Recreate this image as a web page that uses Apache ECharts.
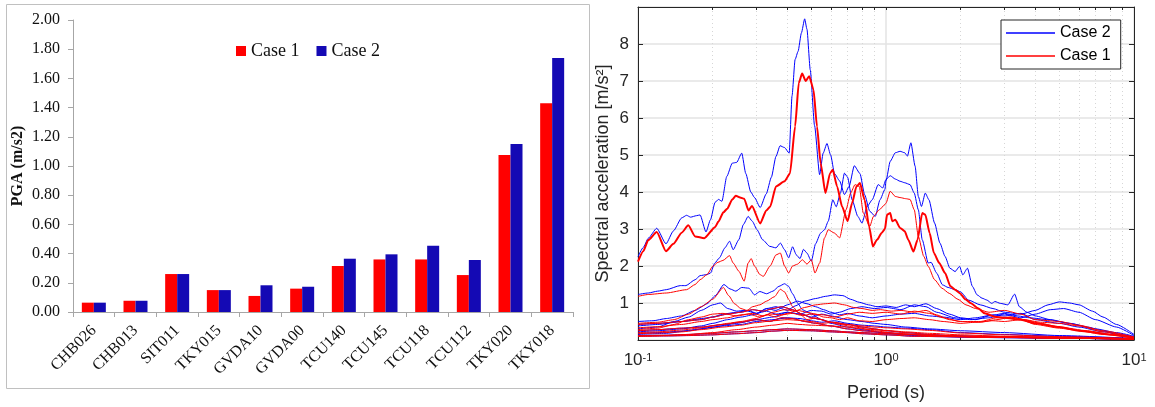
<!DOCTYPE html>
<html>
<head>
<meta charset="utf-8">
<script src="https://cdn.jsdelivr.net/npm/echarts@6/dist/echarts.min.js"></script>
<style>
  html, body { margin: 0; padding: 0; background: #fff; }
  #chart { width: 1155px; height: 407px; }
</style>
</head>
<body>
<div id="chart"></div>
<script>
// left panel: PGA per station
const stations = ['CHB026', 'CHB013', 'SIT011', 'TKY015', 'GVDA10', 'GVDA00', 'TCU140', 'TCU145', 'TCU118', 'TCU112', 'TKY020', 'TKY018']
const pgaCase1 = [0.064, 0.077, 0.26, 0.15, 0.11, 0.16, 0.315, 0.36, 0.36, 0.253, 1.075, 1.43]
const pgaCase2 = [0.064, 0.077, 0.26, 0.15, 0.183, 0.173, 0.365, 0.395, 0.454, 0.356, 1.15, 1.74]

// right panel: response spectra, [period (s), Sa (m/s2)]
const periodTicks = [0.1, 1, 10]
const minorPeriods = [0.2, 0.3, 0.4, 0.5, 0.6, 0.7, 0.8, 0.9, 2, 3, 4, 5, 6, 7, 8, 9]

const tky018Case2 = [[0.1, 2.25], [0.105, 2.5], [0.11, 2.75], [0.119, 3.02], [0.1297, 2.6], [0.139, 2.95], [0.15, 3.3], [0.157, 3.37], [0.163, 3.32], [0.172, 3.36], [0.178, 3.38], [0.188, 2.92], [0.196, 3.25], [0.2045, 3.72], [0.211, 3.8], [0.218, 3.75], [0.228, 4.42], [0.24, 4.78], [0.25, 4.8], [0.262, 5.05], [0.272, 4.5], [0.285, 4.0], [0.295, 3.85], [0.311, 3.58], [0.329, 3.95], [0.345, 4.4], [0.36, 4.96], [0.374, 5.25], [0.39, 5.2], [0.407, 5.05], [0.418, 6.6], [0.43, 7.58], [0.442, 7.8], [0.456, 8.3], [0.47, 8.68], [0.48, 8.4], [0.495, 7.3], [0.515, 5.8], [0.54, 4.47], [0.558, 5.05], [0.578, 5.31], [0.598, 5.0], [0.62, 4.5], [0.65, 4.3], [0.68, 3.93], [0.71, 4.15], [0.745, 4.71], [0.785, 4.5], [0.82, 3.93], [0.86, 3.48], [0.905, 3.34], [0.946, 3.79], [0.99, 4.07], [1.0, 4.3], [1.04, 4.83], [1.09, 5.06], [1.14, 5.1], [1.19, 5.06], [1.22, 4.97], [1.26, 5.33], [1.31, 4.7], [1.35, 3.88], [1.39, 3.61], [1.44, 3.97], [1.49, 3.79], [1.57, 3.16], [1.65, 2.62], [1.73, 2.26], [1.81, 1.94], [1.9, 1.85], [1.98, 1.99], [2.04, 1.76], [2.13, 1.94], [2.23, 1.45], [2.33, 1.22], [2.44, 1.13], [2.55, 1.08], [2.67, 0.99], [2.75, 1.04], [2.89, 0.99], [3.1, 0.95], [3.3, 1.24], [3.45, 0.9], [3.7, 0.75], [4.0, 0.65], [4.6, 0.55], [5.5, 0.45], [6.5, 0.35], [7.5, 0.25], [8.5, 0.15], [10, 0.08]]
const tky018Case1 = [[0.1, 2.12], [0.105, 2.4], [0.11, 2.7], [0.119, 2.92], [0.1297, 2.4], [0.139, 2.6], [0.15, 2.9], [0.1595, 3.1], [0.17, 2.8], [0.185, 2.75], [0.2045, 3.05], [0.211, 3.2], [0.221, 3.45], [0.229, 3.55], [0.24, 3.8], [0.248, 3.9], [0.258, 3.85], [0.268, 3.82], [0.279, 3.5], [0.288, 3.62], [0.311, 3.15], [0.329, 3.5], [0.341, 3.6], [0.36, 4.15], [0.39, 4.29], [0.41, 4.5], [0.43, 5.77], [0.445, 6.95], [0.459, 7.2], [0.475, 7.0], [0.49, 7.13], [0.51, 6.77], [0.527, 5.77], [0.545, 4.78], [0.57, 3.97], [0.595, 4.51], [0.61, 4.6], [0.635, 4.15], [0.665, 3.61], [0.7, 3.21], [0.73, 3.7], [0.76, 4.15], [0.785, 4.24], [0.82, 3.79], [0.855, 3.07], [0.885, 2.53], [0.92, 2.71], [0.96, 2.89], [0.99, 3.0], [1.01, 3.39], [1.04, 3.43], [1.06, 3.21], [1.09, 3.25], [1.14, 3.03], [1.19, 2.94], [1.23, 2.71], [1.29, 2.39], [1.34, 2.71], [1.4, 3.43], [1.44, 3.39], [1.5, 2.89], [1.56, 2.35], [1.64, 2.08], [1.73, 1.81], [1.82, 1.45], [1.9, 1.36], [1.99, 1.26], [2.09, 1.1], [2.2, 0.99], [2.35, 0.86], [2.5, 0.72], [2.75, 0.63], [3.0, 0.6], [3.5, 0.55], [4.0, 0.45], [5, 0.35], [6, 0.25], [8, 0.15], [10, 0.06]]
const tky020Case2 = [[0.1, 1.23], [0.11, 1.27], [0.12, 1.32], [0.13, 1.36], [0.148, 1.47], [0.156, 1.47], [0.17, 1.63], [0.178, 1.74], [0.19, 1.77], [0.196, 1.81], [0.204, 2.08], [0.213, 2.22], [0.224, 2.49], [0.234, 2.67], [0.242, 2.44], [0.255, 2.71], [0.266, 3.12], [0.278, 3.34], [0.289, 3.21], [0.302, 2.98], [0.318, 2.71], [0.34, 2.53], [0.36, 2.49], [0.375, 2.62], [0.39, 2.44], [0.405, 2.22], [0.42, 2.52], [0.435, 2.3], [0.45, 2.2], [0.465, 2.45], [0.48, 2.35], [0.5, 2.13], [0.52, 2.6], [0.545, 2.89], [0.565, 2.98], [0.585, 3.21], [0.61, 3.79], [0.63, 3.6], [0.655, 3.97], [0.68, 4.51], [0.7, 4.4], [0.73, 3.79], [0.77, 3.34], [0.8, 3.16], [0.84, 3.61], [0.88, 3.79], [0.93, 4.2], [0.97, 4.11], [1.0, 4.34], [1.04, 4.44], [1.09, 4.35], [1.14, 4.29], [1.19, 4.25], [1.25, 4.2], [1.3, 3.97], [1.35, 3.52], [1.4, 2.71], [1.48, 2.08], [1.52, 2.1], [1.6, 1.81], [1.69, 1.49], [1.78, 1.42], [1.9, 1.36], [2.0, 1.3], [2.15, 1.08], [2.4, 0.95], [2.7, 0.85], [3.0, 0.75], [3.5, 0.7], [4.0, 0.8], [4.5, 0.95], [5.0, 1.03], [5.5, 1.0], [6.0, 0.95], [6.8, 0.78], [7.5, 0.62], [8.5, 0.42], [10, 0.15]]
const tky020Case1 = [[0.1, 1.18], [0.11, 1.23], [0.13, 1.27], [0.157, 1.36], [0.17, 1.5], [0.178, 1.63], [0.19, 1.77], [0.2, 1.99], [0.21, 2.1], [0.22, 2.15], [0.234, 2.28], [0.242, 2.08], [0.255, 1.86], [0.268, 1.59], [0.278, 2.08], [0.286, 2.2], [0.295, 2.0], [0.31, 1.77], [0.32, 1.72], [0.341, 2.0], [0.36, 2.3], [0.375, 2.35], [0.39, 2.0], [0.405, 1.81], [0.42, 2.0], [0.44, 2.05], [0.46, 2.17], [0.48, 2.05], [0.5, 2.17], [0.517, 1.81], [0.54, 2.08], [0.565, 2.76], [0.585, 2.98], [0.62, 2.89], [0.65, 2.76], [0.69, 3.52], [0.72, 3.97], [0.75, 4.2], [0.78, 4.15], [0.81, 3.43], [0.86, 3.07], [0.89, 3.34], [0.94, 3.52], [0.99, 3.66], [1.0, 3.7], [1.04, 4.02], [1.09, 3.88], [1.14, 3.85], [1.2, 3.82], [1.25, 3.8], [1.3, 3.52], [1.35, 2.8], [1.42, 2.26], [1.48, 1.99], [1.57, 1.63], [1.68, 1.4], [1.8, 1.26], [1.95, 1.1], [2.1, 0.95], [2.3, 0.85], [2.6, 0.75], [3.0, 0.8], [3.5, 0.7], [4.0, 0.55], [5.0, 0.5], [6.0, 0.4], [7.5, 0.25], [10, 0.08]]
const tcu118Case2 = [[0.1, 0.5], [0.115, 0.52], [0.13, 0.58], [0.15, 0.65], [0.17, 0.8], [0.19, 0.98], [0.205, 1.2], [0.222, 1.5], [0.235, 1.38], [0.248, 1.32], [0.262, 1.42], [0.28, 1.4], [0.295, 1.22], [0.31, 1.31], [0.33, 1.25], [0.35, 1.32], [0.37, 1.45], [0.39, 1.52], [0.405, 1.45], [0.42, 1.25], [0.44, 1.0], [0.46, 0.82], [0.5, 0.7], [0.55, 0.55], [0.6, 0.45], [0.7, 0.35], [0.8, 0.28], [1.0, 0.18], [1.3, 0.12], [2, 0.08], [3, 0.06], [5, 0.05], [10, 0.02]]
const tcu118Case1 = [[0.1, 0.45], [0.12, 0.48], [0.14, 0.55], [0.16, 0.7], [0.18, 0.9], [0.2, 1.1], [0.221, 1.42], [0.232, 1.2], [0.245, 0.98], [0.26, 0.85], [0.275, 0.8], [0.29, 0.9], [0.31, 0.95], [0.33, 1.05], [0.355, 1.17], [0.375, 1.37], [0.39, 1.3], [0.405, 1.1], [0.42, 0.9], [0.45, 0.7], [0.48, 0.55], [0.52, 0.6], [0.58, 0.5], [0.65, 0.42], [0.75, 0.35], [0.9, 0.25], [1.1, 0.18], [1.5, 0.12], [2.5, 0.08], [5, 0.05], [10, 0.02]]
const tcu145Case2 = [[0.1, 0.38], [0.12, 0.42], [0.15, 0.5], [0.18, 0.58], [0.2, 0.62], [0.22, 0.7], [0.25, 0.75], [0.28, 0.8], [0.3, 0.72], [0.33, 0.85], [0.36, 0.9], [0.4, 0.8], [0.43, 0.92], [0.47, 1.05], [0.52, 1.12], [0.57, 1.18], [0.62, 1.22], [0.67, 1.2], [0.72, 1.1], [0.78, 1.02], [0.85, 0.95], [0.92, 0.9], [1.0, 0.92], [1.1, 0.88], [1.2, 0.95], [1.3, 0.9], [1.45, 0.98], [1.6, 0.85], [1.8, 0.7], [2.0, 0.6], [2.3, 0.55], [2.6, 0.65], [3.0, 0.72], [3.4, 0.65], [3.8, 0.6], [4.5, 0.55], [5.5, 0.45], [7, 0.3], [8.5, 0.2], [10, 0.1]]
const tcu145Case1 = [[0.1, 0.33], [0.12, 0.36], [0.15, 0.42], [0.18, 0.5], [0.2, 0.55], [0.23, 0.6], [0.26, 0.68], [0.29, 0.72], [0.32, 0.65], [0.35, 0.75], [0.39, 0.82], [0.43, 0.78], [0.47, 0.88], [0.52, 0.95], [0.57, 0.98], [0.62, 1.0], [0.68, 0.95], [0.74, 0.88], [0.8, 0.85], [0.88, 0.8], [0.95, 0.82], [1.05, 0.78], [1.15, 0.8], [1.3, 0.75], [1.45, 0.8], [1.6, 0.68], [1.8, 0.55], [2.0, 0.5], [2.4, 0.5], [2.8, 0.6], [3.2, 0.62], [3.6, 0.55], [4.2, 0.45], [5, 0.35], [6.5, 0.25], [8, 0.15], [10, 0.06]]
const tcu140Case2 = [[0.1, 0.3], [0.12, 0.35], [0.14, 0.5], [0.16, 0.62], [0.18, 0.8], [0.2, 0.95], [0.215, 1.0], [0.23, 0.85], [0.25, 0.78], [0.27, 0.8], [0.3, 0.72], [0.33, 0.78], [0.36, 0.7], [0.4, 0.75], [0.45, 0.7], [0.5, 0.8], [0.55, 0.78], [0.6, 0.7], [0.65, 0.75], [0.72, 0.85], [0.8, 0.9], [0.9, 0.85], [1.0, 0.88], [1.15, 0.82], [1.3, 0.95], [1.45, 0.9], [1.6, 0.75], [1.9, 0.6], [2.2, 0.55], [2.6, 0.6], [3.0, 0.7], [3.5, 0.6], [4.0, 0.7], [4.6, 0.82], [5.2, 0.85], [6, 0.75], [7, 0.55], [8.5, 0.35], [10, 0.12]]
const tcu140Case1 = [[0.1, 0.28], [0.12, 0.32], [0.14, 0.42], [0.16, 0.55], [0.18, 0.62], [0.2, 0.7], [0.22, 0.72], [0.25, 0.65], [0.28, 0.7], [0.31, 0.62], [0.34, 0.7], [0.38, 0.68], [0.42, 0.72], [0.46, 0.66], [0.5, 0.7], [0.56, 0.68], [0.62, 0.62], [0.7, 0.7], [0.78, 0.75], [0.88, 0.72], [1.0, 0.75], [1.15, 0.7], [1.3, 0.78], [1.5, 0.72], [1.7, 0.6], [2.0, 0.5], [2.4, 0.48], [2.8, 0.55], [3.2, 0.62], [3.6, 0.55], [4.2, 0.48], [5, 0.45], [6, 0.38], [7.5, 0.22], [10, 0.06]]
const tcu112Case2 = [[0.1, 0.22], [0.12, 0.25], [0.15, 0.3], [0.18, 0.38], [0.2, 0.45], [0.23, 0.55], [0.26, 0.62], [0.3, 0.7], [0.33, 0.85], [0.36, 0.8], [0.4, 0.95], [0.44, 1.05], [0.48, 0.98], [0.52, 0.9], [0.56, 0.82], [0.6, 0.75], [0.65, 0.68], [0.7, 0.72], [0.78, 0.65], [0.88, 0.6], [1.0, 0.65], [1.15, 0.7], [1.3, 0.72], [1.5, 0.65], [1.7, 0.62], [2.0, 0.55], [2.3, 0.6], [2.7, 0.68], [3.0, 0.65], [3.5, 0.72], [4.0, 0.55], [5, 0.45], [6, 0.35], [7.5, 0.22], [10, 0.08]]
const tcu112Case1 = [[0.1, 0.2], [0.12, 0.22], [0.15, 0.27], [0.18, 0.33], [0.2, 0.38], [0.23, 0.45], [0.26, 0.5], [0.3, 0.58], [0.33, 0.68], [0.36, 0.62], [0.4, 0.72], [0.44, 0.8], [0.48, 0.75], [0.52, 0.7], [0.56, 0.62], [0.6, 0.6], [0.65, 0.55], [0.7, 0.6], [0.78, 0.52], [0.88, 0.5], [1.0, 0.55], [1.15, 0.58], [1.3, 0.6], [1.5, 0.55], [1.7, 0.5], [2.0, 0.45], [2.3, 0.48], [2.7, 0.52], [3.0, 0.5], [3.5, 0.55], [4.0, 0.42], [5, 0.32], [6, 0.25], [7.5, 0.15], [10, 0.05]]
const gvda10Case2 = [[0.1, 0.15], [0.13, 0.18], [0.16, 0.25], [0.2, 0.35], [0.25, 0.45], [0.3, 0.55], [0.35, 0.62], [0.4, 0.75], [0.45, 0.7], [0.5, 0.62], [0.55, 0.7], [0.6, 0.65], [0.7, 0.55], [0.8, 0.5], [0.9, 0.45], [1.0, 0.42], [1.2, 0.35], [1.5, 0.3], [2, 0.25], [3, 0.2], [5, 0.12], [10, 0.04]]
const gvda10Case1 = [[0.1, 0.1], [0.13, 0.12], [0.16, 0.15], [0.2, 0.2], [0.25, 0.28], [0.3, 0.35], [0.35, 0.4], [0.4, 0.45], [0.45, 0.42], [0.5, 0.4], [0.6, 0.38], [0.7, 0.35], [0.8, 0.3], [1.0, 0.26], [1.2, 0.22], [1.5, 0.18], [2, 0.14], [3, 0.1], [5, 0.07], [10, 0.03]]
const gvda00Case2 = [[0.1, 0.18], [0.12, 0.2], [0.15, 0.24], [0.18, 0.3], [0.22, 0.38], [0.26, 0.42], [0.3, 0.5], [0.35, 0.55], [0.4, 0.6], [0.45, 0.58], [0.5, 0.52], [0.55, 0.48], [0.62, 0.52], [0.7, 0.45], [0.8, 0.4], [0.9, 0.38], [1.0, 0.35], [1.2, 0.32], [1.5, 0.28], [2, 0.2], [3, 0.15], [5, 0.1], [10, 0.04]]
const gvda00Case1 = [[0.1, 0.17], [0.12, 0.19], [0.15, 0.22], [0.18, 0.28], [0.22, 0.35], [0.26, 0.4], [0.3, 0.47], [0.35, 0.52], [0.4, 0.55], [0.45, 0.53], [0.5, 0.5], [0.55, 0.45], [0.62, 0.48], [0.7, 0.42], [0.8, 0.38], [0.9, 0.35], [1.0, 0.33], [1.2, 0.3], [1.5, 0.26], [2, 0.19], [3, 0.14], [5, 0.09], [10, 0.04]]
// these four stations give the same spectrum in both cases
const sit011Spec = [[0.1, 0.42], [0.12, 0.45], [0.15, 0.5], [0.18, 0.55], [0.2, 0.62], [0.23, 0.7], [0.26, 0.75], [0.29, 0.82], [0.32, 0.78], [0.35, 0.85], [0.38, 0.9], [0.42, 0.82], [0.46, 0.7], [0.5, 0.6], [0.55, 0.55], [0.6, 0.48], [0.7, 0.42], [0.8, 0.35], [0.9, 0.3], [1.0, 0.25], [1.2, 0.2], [1.5, 0.15], [2, 0.1], [3, 0.08], [5, 0.05], [10, 0.02]]
const tky015Spec = [[0.1, 0.25], [0.12, 0.28], [0.15, 0.32], [0.18, 0.35], [0.22, 0.42], [0.26, 0.48], [0.3, 0.55], [0.34, 0.5], [0.38, 0.6], [0.42, 0.58], [0.47, 0.5], [0.52, 0.45], [0.6, 0.38], [0.7, 0.3], [0.8, 0.25], [1.0, 0.2], [1.2, 0.16], [1.5, 0.12], [2, 0.09], [3, 0.07], [5, 0.05], [10, 0.02]]
const chb013Spec = [[0.1, 0.12], [0.13, 0.13], [0.16, 0.15], [0.2, 0.18], [0.25, 0.22], [0.3, 0.25], [0.35, 0.28], [0.4, 0.3], [0.5, 0.28], [0.6, 0.25], [0.7, 0.22], [0.8, 0.2], [1.0, 0.17], [1.3, 0.14], [1.7, 0.12], [2.5, 0.1], [4, 0.08], [6, 0.06], [10, 0.03]]
const chb026Spec = [[0.1, 0.1], [0.13, 0.11], [0.16, 0.12], [0.2, 0.14], [0.25, 0.17], [0.3, 0.2], [0.35, 0.24], [0.4, 0.26], [0.5, 0.25], [0.6, 0.22], [0.7, 0.2], [0.8, 0.17], [1.0, 0.14], [1.3, 0.1], [1.7, 0.09], [2.5, 0.07], [4, 0.06], [6, 0.05], [10, 0.02]]

const case2Spectra = [tky018Case2, tky020Case2, tcu118Case2, tcu145Case2, tcu140Case2, tcu112Case2, gvda10Case2, gvda00Case2, sit011Spec, tky015Spec, chb013Spec, chb026Spec]
const case1Spectra = [tky020Case1, tcu118Case1, tcu145Case1, tcu140Case1, tcu112Case1, gvda10Case1, gvda00Case1, sit011Spec, tky015Spec, chb013Spec, chb026Spec, tky018Case1]

const RED = '#ff0000'
const BAR_BLUE = '#1409b4'
const LINE_BLUE = '#0000ff'
const SERIF = 'Liberation Serif'
const SANS = 'Liberation Sans'
const INK = '#262626'

const chart = echarts.init(document.getElementById('chart'), null, { renderer: 'canvas' })

function spectrumSeries(data, name, color, width) {
  return {
    type: 'line',
    name,
    xAxisIndex: 1,
    yAxisIndex: 1,
    data,
    symbol: 'none',
    showSymbol: false,
    smooth: 0.2,
    smoothMonotone: 'x',
    silent: true,
    lineStyle: { color, width },
    itemStyle: { color },
    z: 3,
  }
}

const lineSeries = []
case2Spectra.forEach((d) => lineSeries.push(spectrumSeries(d, 'Case 2 ', LINE_BLUE, 1)))
case1Spectra.forEach((d) => lineSeries.push(spectrumSeries(d, 'Case 1 ', RED, d === tky018Case1 ? 2 : 1)))

chart.setOption({
  animation: false,
  backgroundColor: '#fff',
  graphic: [
    { type: 'rect', shape: { x: 6.5, y: 4.5, width: 583, height: 384 }, style: { fill: 'none', stroke: '#c0c0c0', lineWidth: 1 }, silent: true },
  ],
  grid: [
    { left: 73, top: 20, width: 500, height: 292, outerBoundsMode: 'none' },
    { left: 638, top: 7, width: 496, height: 333, outerBoundsMode: 'none' },
  ],
  legend: [
    {
      data: ['Case 1', 'Case 2'],
      left: 236,
      top: 42,
      padding: 0,
      itemWidth: 10,
      itemHeight: 10,
      itemGap: 17,
      icon: 'rect',
      textStyle: { fontFamily: SERIF, fontSize: 18, color: '#111' },
    },
    {
      data: [
        { name: 'Case 2 ', icon: 'rect', itemStyle: { color: LINE_BLUE } },
        { name: 'Case 1 ', icon: 'rect', itemStyle: { color: RED } },
      ],
      orient: 'vertical',
      left: 1001,
      top: 20,
      padding: [4, 10, 4, 5],
      itemWidth: 49,
      itemHeight: 1.3,
      itemGap: 5,
      backgroundColor: '#fff',
      borderColor: INK,
      borderWidth: 1,
      borderRadius: 0,
      formatter: (n) => n.trim(),
      textStyle: { fontFamily: SANS, fontSize: 16, lineHeight: 18, color: '#000' },
    },
  ],
  xAxis: [
    {
      type: 'category',
      gridIndex: 0,
      data: stations,
      axisLine: { lineStyle: { color: '#a6a6a6' } },
      axisTick: { show: true, length: 5, lineStyle: { color: '#a6a6a6' } },
      axisLabel: { rotate: 45, margin: 16, fontFamily: SERIF, fontSize: 16, color: '#111', interval: 0 },
      splitLine: { show: false },
    },
    {
      type: 'log',
      gridIndex: 1,
      logBase: 10,
      min: 0.1,
      max: 10,
      position: 'bottom',
      name: 'Period (s)',
      nameLocation: 'middle',
      nameGap: 44,
      nameTextStyle: { fontFamily: SANS, fontSize: 18, color: INK },
      axisLine: { show: true, onZero: false, lineStyle: { color: INK } },
      axisTick: { show: true, inside: true, length: 5, lineStyle: { color: INK } },
      axisLabel: {
        margin: 12,
        color: INK,
        formatter: (v) => '{b|10}{s|' + Math.round(Math.log10(v)) + '}',
        rich: {
          b: { fontFamily: SANS, fontSize: 17, color: INK },
          s: { fontFamily: SANS, fontSize: 11, color: INK, verticalAlign: 'top' },
        },
      },
      splitLine: { show: true, lineStyle: { color: '#e3e3e3', width: 1.5 } },
      minorTick: { show: false },
    },
    {
      type: 'log',
      gridIndex: 1,
      logBase: 10,
      min: 0.1,
      max: 10,
      position: 'bottom',
      axisLine: { show: false },
      axisTick: { show: true, inside: true, length: 3, customValues: minorPeriods, lineStyle: { color: INK } },
      axisLabel: { show: false },
      splitLine: { show: true, lineStyle: { color: '#d6d6d6', type: [1, 3], width: 1 } },
    },
    {
      type: 'log',
      gridIndex: 1,
      logBase: 10,
      min: 0.1,
      max: 10,
      position: 'top',
      axisLine: { show: true, onZero: false, lineStyle: { color: INK } },
      axisTick: { show: true, inside: true, length: 3, customValues: periodTicks.concat(minorPeriods), lineStyle: { color: INK } },
      axisLabel: { show: false },
      splitLine: { show: false },
    },
  ],
  yAxis: [
    {
      type: 'value',
      gridIndex: 0,
      min: 0,
      max: 2,
      interval: 0.2,
      name: 'PGA (m/s2)',
      nameLocation: 'middle',
      nameGap: 47,
      nameTextStyle: { fontFamily: SERIF, fontSize: 16, fontWeight: 'bold', color: '#111' },
      axisLine: { show: true, lineStyle: { color: '#a6a6a6' } },
      axisTick: { show: true, length: 5, lineStyle: { color: '#a6a6a6' } },
      axisLabel: { fontFamily: SERIF, fontSize: 16, color: '#111', margin: 13, formatter: (v) => v.toFixed(2) },
      splitLine: { show: false },
    },
    {
      type: 'value',
      gridIndex: 1,
      min: 0,
      max: 9,
      interval: 1,
      position: 'left',
      name: 'Spectral acceleration [m/s²]',
      nameLocation: 'middle',
      nameGap: 26,
      nameTextStyle: { fontFamily: SANS, fontSize: 18, color: INK },
      axisLine: { show: true, onZero: false, lineStyle: { color: INK } },
      axisTick: { show: true, inside: true, length: 5, lineStyle: { color: INK } },
      axisLabel: {
        fontFamily: SANS, fontSize: 17, color: INK, margin: 9,
        formatter: (v) => (v === 0 || v === 9 ? '' : String(v)),
      },
      splitLine: { show: true, lineStyle: { color: '#e3e3e3', width: 1.5 } },
    },
    {
      type: 'value',
      gridIndex: 1,
      min: 0,
      max: 9,
      interval: 1,
      position: 'right',
      axisLine: { show: true, onZero: false, lineStyle: { color: INK } },
      axisTick: { show: true, inside: true, length: 5, lineStyle: { color: INK } },
      axisLabel: { show: false },
      splitLine: { show: false },
    },
  ],
  series: [
    {
      type: 'bar',
      name: 'Case 1',
      xAxisIndex: 0,
      yAxisIndex: 0,
      data: pgaCase1,
      barWidth: 12,
      barGap: '0%',
      itemStyle: { color: RED },
    },
    {
      type: 'bar',
      name: 'Case 2',
      xAxisIndex: 0,
      yAxisIndex: 0,
      data: pgaCase2,
      barWidth: 12,
      barGap: '0%',
      itemStyle: { color: BAR_BLUE },
    },
    ...lineSeries,
  ],
})
</script>
</body>
</html>
